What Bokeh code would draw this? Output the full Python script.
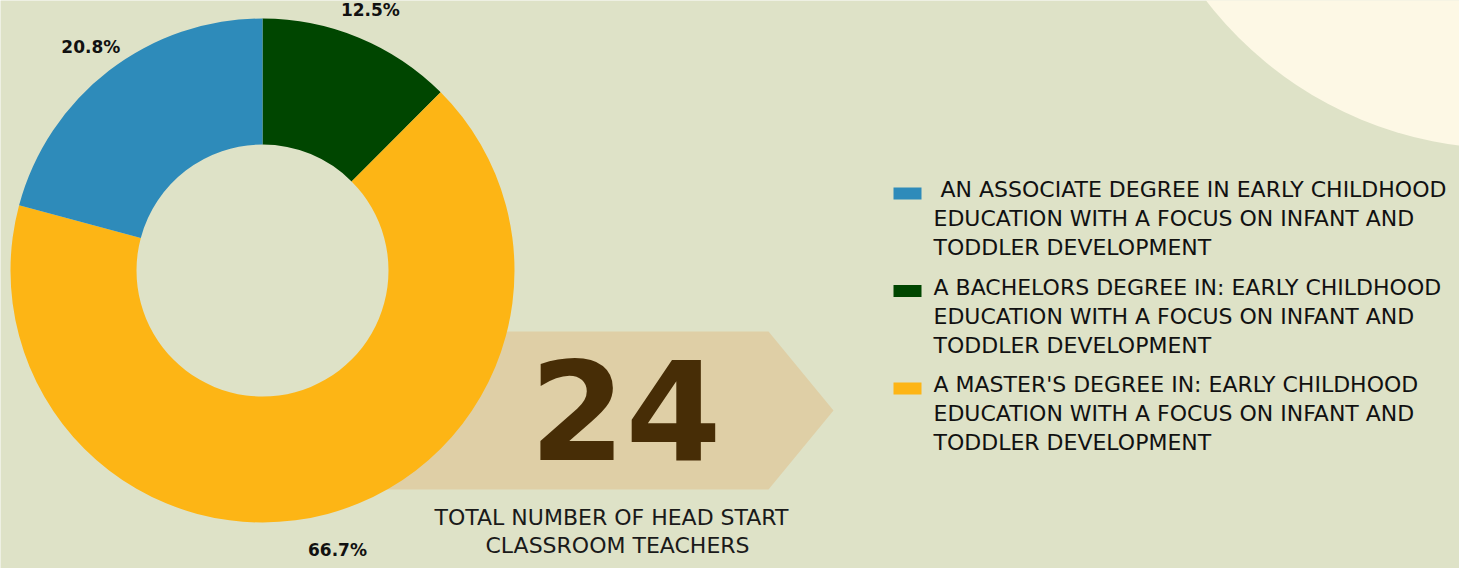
import math
from bokeh.plotting import figure
from bokeh.models import Range1d
from bokeh.core.properties import value
from bokeh.embed import file_html
from bokeh.resources import INLINE

# ---- data ----
categories = [
    "\u00a0AN ASSOCIATE DEGREE IN EARLY CHILDHOOD\nEDUCATION  WITH A FOCUS ON INFANT AND\nTODDLER DEVELOPMENT",
    "A BACHELORS DEGREE IN: EARLY CHILDHOOD\nEDUCATION WITH A FOCUS ON INFANT AND\nTODDLER DEVELOPMENT",
    "A MASTER'S DEGREE IN: EARLY CHILDHOOD\nEDUCATION WITH A FOCUS ON INFANT AND\nTODDLER DEVELOPMENT",
]
teachers = [5, 3, 16]
colors = ["#2E8BBA", "#004600", "#FDB515"]
pie_order = [1, 2, 0]  # clockwise from 12 o'clock: bachelors, master's, associate
caption = ["TOTAL NUMBER OF HEAD START", "CLASSROOM TEACHERS"]

BG = "#DEE2C7"
FONT = "DejaVu Sans"
W, H = 1459, 568

total = sum(teachers)

p = figure(width=W, height=H, x_range=Range1d(0, W), y_range=Range1d(0, H),
           output_backend="svg", toolbar_location=None, min_border=0)
p.axis.visible = False
p.grid.visible = False
p.outline_line_color = None
p.background_fill_color = BG
p.border_fill_color = BG

# decorative cream circle (top right)
p.circle(x=[1506], y=[799], radius=379, fill_color="#FDF8E5", line_color=None)

# arrow banner behind the total
p.patch(x=[380, 768, 833, 768, 380], y=[237, 237, 158, 79, 79],
        fill_color="#DFCFA6", line_color=None)

# donut
cx, cy, r_in, r_out = 262, 298, 126, 252
starts, ends, wcols, labx, laby, labt = [], [], [], [], [], []
cum = 0.0
for i in pie_order:
    frac = teachers[i] / total
    a0 = math.pi / 2 - cum * 2 * math.pi
    a1 = a0 - frac * 2 * math.pi
    starts.append(a0)
    ends.append(a1)
    wcols.append(colors[i])
    mid = (a0 + a1) / 2
    rl = 282 + 8 * max(0.0, -math.sin(mid))
    labx.append(cx + rl * math.cos(mid))
    laby.append(cy + rl * math.sin(mid))
    labt.append(f"{frac * 100:.1f}%")
    cum += frac

p.annular_wedge(x=cx, y=cy, inner_radius=r_in, outer_radius=r_out,
                start_angle=starts, end_angle=ends, direction="clock",
                fill_color=wcols, line_color=None)
p.text(x=labx, y=laby, text=labt, text_font=value(FONT), text_font_style="bold",
       text_font_size="17px", text_color="#111111", text_align="center",
       text_baseline="middle")

# big total
p.text(x=[625], y=[159], text=[str(total)], text_font=value(FONT),
       text_font_style="bold", text_font_size="138px", text_color="#472D06",
       text_align="center", text_baseline="middle")
p.text(x=[611, 617], y=[51, 23], text=caption, text_font=value(FONT),
       text_font_size="22px", text_color="#1A1A1A", text_align="center",
       text_baseline="middle")

# legend
sq_x, sq_y, tx, ty, tt = [], [], [], [], []
for k, lab in enumerate(categories):
    top = 576 - (197 + k * 97.5)
    sq_x.append(907)
    sq_y.append(top - 4)
    for j, line in enumerate(lab.split("\n")):
        tx.append(933)
        ty.append(top - j * 29)
        tt.append(line)
p.rect(x=sq_x, y=sq_y, width=28, height=12, fill_color=colors, line_color=None)
p.text(x=tx, y=ty, text=tt, text_font=value(FONT), text_font_size="22px",
       text_color="#111111", text_align="left", text_baseline="middle")

open("out.html", "w").write(file_html(p, INLINE))
